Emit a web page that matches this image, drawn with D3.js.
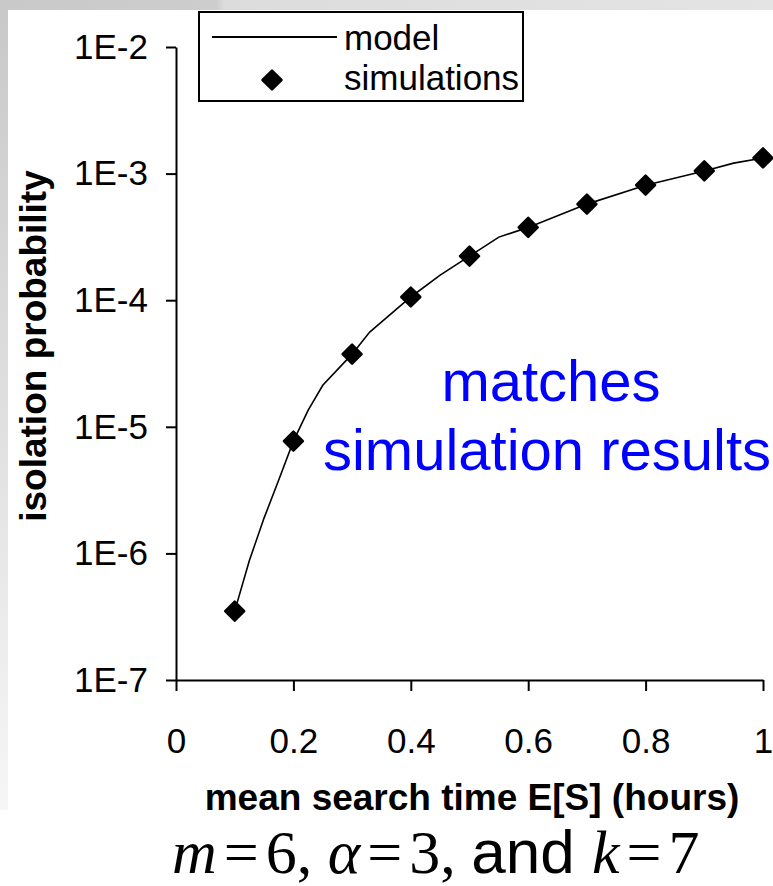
<!DOCTYPE html>
<html>
<head>
<meta charset="utf-8">
<script src="https://cdn.jsdelivr.net/npm/d3@7.9.0/dist/d3.min.js"></script>
<style>
  html, body { margin: 0; padding: 0; background: #fff; }
  svg { display: block; font-family: "Liberation Sans", Arial, sans-serif; }
</style>
</head>
<body>
<svg id="chart" width="773" height="886"></svg>
<script>
// simulation points (mean search time in hours -> isolation probability)
const simX = [0.1, 0.2, 0.3, 0.4, 0.5, 0.6, 0.7, 0.8, 0.9, 1.0];
const simY = [3.5e-7, 7.7e-6, 3.75e-5, 1.06e-4, 2.23e-4, 3.76e-4, 5.74e-4, 8.1e-4, 1.05e-3, 1.33e-3];

// model curve
const modelX = [0.1, 0.125, 0.15, 0.175, 0.2, 0.225, 0.25, 0.3, 0.33, 0.4, 0.45, 0.5, 0.55, 0.6, 0.7, 0.8, 0.9, 0.95, 1.0];
const modelY = [3.5e-7, 8.8e-7, 1.9e-6, 3.8e-6, 7.7e-6, 1.35e-5, 2.13e-5, 3.75e-5, 5.6e-5, 1.06e-4, 1.58e-4, 2.23e-4, 3.15e-4, 3.76e-4, 5.74e-4, 8.1e-4, 1.05e-3, 1.21e-3, 1.33e-3];

const xTicks = [0, 0.2, 0.4, 0.6, 0.8, 1];
const yTicks = [1e-2, 1e-3, 1e-4, 1e-5, 1e-6, 1e-7];

const svg = d3.select("#chart");

// slide frame: grey strips on top and left
const defs = svg.append("defs");
const gTop = defs.append("linearGradient").attr("id", "gTop");
gTop.append("stop").attr("offset", "0").attr("stop-color", "#c9c9c9");
gTop.append("stop").attr("offset", "0.28").attr("stop-color", "#cdcdcd");
gTop.append("stop").attr("offset", "0.29").attr("stop-color", "#dcdcdc");
gTop.append("stop").attr("offset", "1").attr("stop-color", "#e4e4e4");
const gLeft = defs.append("linearGradient").attr("id", "gLeft")
    .attr("x1", 0).attr("y1", 0).attr("x2", 0).attr("y2", 1);
gLeft.append("stop").attr("offset", "0").attr("stop-color", "#c8c8c8");
gLeft.append("stop").attr("offset", "1").attr("stop-color", "#f6f6f6");

svg.append("rect").attr("x", 0).attr("y", 0).attr("width", 8).attr("height", 810).attr("fill", "url(#gLeft)");
svg.append("rect").attr("x", 0).attr("y", 0).attr("width", 773).attr("height", 10).attr("fill", "url(#gTop)");

const x = d3.scaleLinear().domain([0, 1]).range([176, 763]);
const y = d3.scaleLog().domain([1e-7, 1e-2]).range([680, 47]);

// y axis
const yAxis = svg.append("g")
    .attr("transform", `translate(${x(0)},0)`)
    .call(d3.axisLeft(y)
        .tickValues(yTicks)
        .tickSize(10)
        .tickSizeOuter(0)
        .tickPadding(18)
        .tickFormat(d => "1E" + Math.round(Math.log10(d))));

// x axis
const xAxis = svg.append("g")
    .attr("transform", `translate(0,${y(1e-7)})`)
    .call(d3.axisBottom(x)
        .tickValues(xTicks)
        .tickSize(11)
        .tickSizeOuter(0)
        .tickPadding(37)
        .tickFormat(d3.format("")));

[yAxis, xAxis].forEach(a => {
    a.select(".domain").attr("stroke", "#000").attr("stroke-width", 2);
    a.selectAll(".tick line").attr("stroke", "#000").attr("stroke-width", 2);
    a.selectAll(".tick text")
        .attr("fill", "#000")
        .style("font-size", "35px")
        .style("font-family", "'Liberation Sans', Arial, sans-serif");
});

// model line
const line = d3.line()
    .x((d, i) => x(modelX[i]))
    .y(d => y(d));

svg.append("path")
    .datum(modelY)
    .attr("d", line)
    .attr("fill", "none")
    .attr("stroke", "#000")
    .attr("stroke-width", 1.6);

// simulation diamonds
const diamond = d3.symbol().type(d3.symbolSquare).size(180);
svg.selectAll(".sim")
    .data(simY)
    .join("path")
    .attr("class", "sim")
    .attr("d", diamond)
    .attr("transform", (d, i) => `translate(${x(simX[i])},${y(d)}) rotate(45)`)
    .attr("fill", "#000")
    .attr("stroke", "#000")
    .attr("stroke-width", 2.5)
    .attr("stroke-linejoin", "round");

// legend
const legend = svg.append("g");
legend.append("rect")
    .attr("x", 199).attr("y", 12).attr("width", 324).attr("height", 89)
    .attr("fill", "#fff").attr("stroke", "#000").attr("stroke-width", 2);
legend.append("line")
    .attr("x1", 212).attr("x2", 337).attr("y1", 37).attr("y2", 37)
    .attr("stroke", "#000").attr("stroke-width", 2);
legend.append("path")
    .attr("d", diamond)
    .attr("transform", "translate(272,80) rotate(45)")
    .attr("fill", "#000").attr("stroke", "#000")
    .attr("stroke-width", 2.5).attr("stroke-linejoin", "round");
legend.append("text").attr("x", 344).attr("y", 50).style("font-size", "35px").text("model");
legend.append("text").attr("x", 344).attr("y", 90).style("font-size", "35px").text("simulations");

// axis titles
svg.append("text")
    .attr("transform", "translate(46,346) rotate(-90)")
    .attr("text-anchor", "middle")
    .style("font-size", "37px")
    .style("font-weight", "bold")
    .text("isolation probability");

svg.append("text")
    .attr("x", 472).attr("y", 810)
    .attr("text-anchor", "middle")
    .style("font-size", "37px")
    .style("font-weight", "bold")
    .text("mean search time E[S] (hours)");

// annotation
const note = svg.append("text")
    .attr("text-anchor", "middle")
    .attr("fill", "#0000ff")
    .style("font-size", "58px");
note.append("tspan").attr("x", 551).attr("y", 401).text("matches");
note.append("tspan").attr("x", 547).attr("y", 470).text("simulation results");

// parameters line
const params = svg.append("text")
    .attr("x", 172).attr("y", 873)
    .style("font-size", "62px")
    .style("font-family", "'Liberation Serif', 'DejaVu Serif', serif");
const parts = [
    ["m", "italic", null, 0], ["=", "normal", null, 7], ["6, ", "normal", null, 7],
    ["α", "italic", null, 0], ["=", "normal", null, 7], ["3, ", "normal", null, 7],
    ["and ", "normal", "'Liberation Sans', Arial, sans-serif", 0],
    ["k", "italic", null, 0], ["=", "normal", null, 7], ["7", "normal", null, 7]
];
parts.forEach(([t, st, ff, dx]) => {
    const s = params.append("tspan").attr("dx", dx).style("font-style", st).text(t);
    if (ff) s.style("font-family", ff);
});
</script>
</body>
</html>
